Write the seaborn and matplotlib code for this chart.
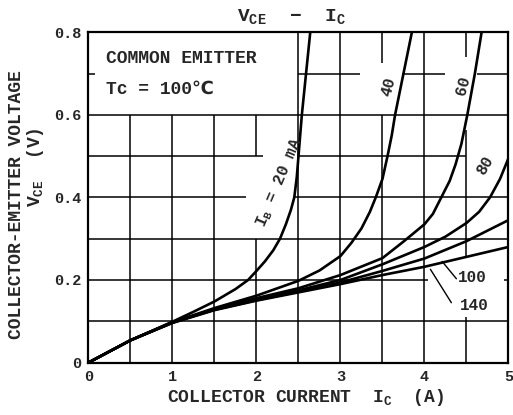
import pandas as pd
import matplotlib
matplotlib.use("Agg")
import matplotlib.pyplot as plt
import seaborn as sns

# VCE - IC curves (IC in A, VCE in V), Tc = 100 C
ic_20 = [0, 0.5, 1.0, 1.25, 1.5, 1.75, 1.9, 2.0, 2.1, 2.2, 2.28, 2.35, 2.41, 2.45, 2.48, 2.5, 2.54, 2.59, 2.64]
vce_20 = [0, 0.054, 0.099, 0.123, 0.148, 0.178, 0.2, 0.222, 0.245, 0.272, 0.3, 0.335, 0.37, 0.4, 0.45, 0.5, 0.6, 0.7, 0.8]

ic_40 = [0, 0.5, 1.0, 1.5, 2.0, 2.5, 2.75, 3.0, 3.13, 3.25, 3.35, 3.42, 3.5, 3.56, 3.61, 3.65, 3.75, 3.85]
vce_40 = [0, 0.054, 0.098, 0.132, 0.162, 0.198, 0.223, 0.258, 0.29, 0.325, 0.365, 0.4, 0.445, 0.5, 0.55, 0.6, 0.7, 0.8]

ic_60 = [0, 0.5, 1.0, 1.5, 2.0, 2.5, 3.0, 3.5, 3.75, 4.0, 4.1, 4.2, 4.3, 4.37, 4.44, 4.51, 4.6, 4.68]
vce_60 = [0, 0.054, 0.097, 0.13, 0.156, 0.18, 0.212, 0.253, 0.293, 0.335, 0.36, 0.4, 0.44, 0.48, 0.53, 0.6, 0.7, 0.8]

ic_80 = [0, 0.5, 1.0, 1.5, 2.0, 2.5, 3.0, 3.5, 4.0, 4.25, 4.5, 4.65, 4.78, 4.9, 5.0]
vce_80 = [0, 0.054, 0.097, 0.129, 0.153, 0.175, 0.2, 0.238, 0.28, 0.305, 0.338, 0.365, 0.4, 0.445, 0.495]

ic_100 = [0, 0.5, 1.0, 1.5, 2.0, 2.5, 3.0, 3.5, 4.0, 4.5, 5.0]
vce_100 = [0, 0.054, 0.097, 0.128, 0.151, 0.172, 0.194, 0.222, 0.252, 0.294, 0.345]

ic_140 = [0, 0.5, 1.0, 1.5, 2.0, 2.5, 3.0, 3.5, 4.0, 4.5, 5.0]
vce_140 = [0, 0.054, 0.096, 0.127, 0.15, 0.17, 0.19, 0.212, 0.232, 0.256, 0.28]

ib_names = ["20", "40", "60", "80", "100", "140"]
x_ticks = [0, 1, 2, 3, 4, 5]
x_ticklabels = ["0", "1", "2", "3", "4", "5"]
y_ticks = [0, 0.2, 0.4, 0.6, 0.8]
y_ticklabels = ["0", "0.2", "0.4", "0.6", "0.8"]

curves = {
    "20": (ic_20, vce_20), "40": (ic_40, vce_40), "60": (ic_60, vce_60),
    "80": (ic_80, vce_80), "100": (ic_100, vce_100), "140": (ic_140, vce_140),
}
rows = []
for name in ib_names:
    for ic, v in zip(*curves[name]):
        rows.append({"IB": name, "IC": ic, "VCE": v})
df = pd.DataFrame(rows)

sns.set_style("white")
plt.rcParams["font.family"] = ["Liberation Mono", "DejaVu Sans"]
plt.rcParams["font.weight"] = "bold"
plt.rcParams["mathtext.fontset"] = "custom"
plt.rcParams["mathtext.rm"] = "Liberation Mono:bold"
plt.rcParams["mathtext.it"] = "Liberation Mono:italic:bold"

fig = plt.figure(figsize=(5.13, 4.15), dpi=100)
ax = fig.add_axes([0.1725, 0.1263, 0.8187, 0.7961])

# datasheet grid, with the gaps left for the labels
vsegs = [(0.5, 0, 0.6), (1.0, 0, 0.6), (1.5, 0, 0.6), (2.0, 0, 0.3), (2.0, 0.5, 0.6),
         (2.5, 0, 0.8), (3.0, 0, 0.8), (3.5, 0, 0.6), (3.5, 0.725, 0.8), (4.0, 0, 0.8),
         (4.5, 0, 0.11), (4.5, 0.256, 0.563), (4.5, 0.74, 0.8)]
hsegs = [(0.1, 0, 5), (0.2, 0, 4.04), (0.2, 4.95, 5), (0.3, 0, 5), (0.4, 0, 1.88), (0.4, 2.45, 5),
         (0.5, 0, 2.08), (0.5, 2.5, 4.5), (0.6, 0, 5), (0.7, 0, 0.08), (0.7, 2.5, 3.23),
         (0.7, 3.73, 4.24), (0.7, 4.62, 5)]
for x, y0, y1 in vsegs:
    ax.vlines(x, y0, y1, color="black", lw=1.1, zorder=1)
for y, x0, x1 in hsegs:
    ax.hlines(y, x0, x1, color="black", lw=1.1, zorder=1)

sns.lineplot(data=df, x="IC", y="VCE", hue="IB", palette=["black"] * len(ib_names),
             estimator=None, sort=False, legend=False, lw=1.9, ax=ax, zorder=3)

ax.set_xlim(0, 5)
ax.set_ylim(0, 0.8)
ax.set_xticks(x_ticks)
ax.set_xticklabels(x_ticklabels)
ax.set_yticks(y_ticks)
ax.set_yticklabels(y_ticklabels)
ax.tick_params(length=0, labelsize=11, pad=5)
ax.set_xlabel("")
ax.set_ylabel("")
for s in ax.spines.values():
    s.set_visible(True)
    s.set_color("black")
    s.set_linewidth(1.6)

# curve labels
ax.text(2.27, 0.436, r"I$_\mathrm{B}$ = 20 mA", rotation=67, ha="center", va="center", fontsize=11.5)
ax.text(3.57, 0.668, "40", rotation=75, ha="center", va="center", fontsize=11.5)
ax.text(4.46, 0.672, "60", rotation=75, ha="center", va="center", fontsize=11.5)
ax.text(4.72, 0.478, "80", rotation=60, ha="center", va="center", fontsize=11.5)
ax.text(4.57, 0.207, "100", ha="center", va="center", fontsize=11.5)
ax.text(4.59, 0.139, "140", ha="center", va="center", fontsize=11.5)
ax.plot([4.21, 4.38], [0.245, 0.203], color="black", lw=1.0)
ax.plot([4.07, 4.32], [0.226, 0.145], color="black", lw=1.0)

ax.text(0.208, 0.7375, "COMMON EMITTER", ha="left", va="center", fontsize=13)
ax.text(0.208, 0.662, "Tc = 100℃", ha="left", va="center", fontsize=13)

fig.text(291.5 / 513, 1 - 17 / 415, r"V$_\mathrm{CE}$  −  I$_\mathrm{C}$", ha="center", va="center", fontsize=14)
fig.text(306 / 513, 1 - 397 / 415, r"COLLECTOR CURRENT  I$_\mathrm{C}$  (A)", ha="center", va="center", fontsize=13)
fig.text(17 / 513, 1 - 205 / 415, "COLLECTOR-EMITTER VOLTAGE", rotation=90, ha="center", va="center", fontsize=13)
fig.text(36 / 513, 1 - 167 / 415, r"V$_\mathrm{CE}$  (V)", rotation=90, ha="center", va="center", fontsize=13)

fig.savefig("out.png", dpi=100)
